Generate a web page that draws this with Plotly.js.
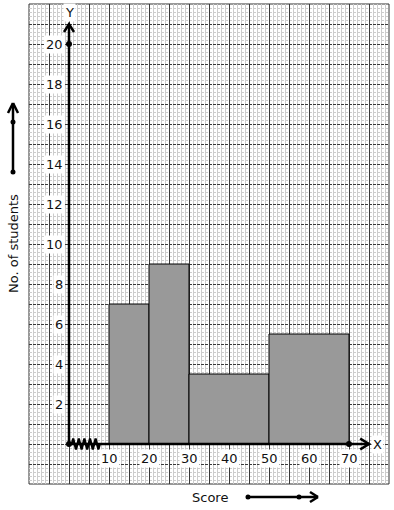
<!DOCTYPE html>
<html>
<head>
<meta charset="utf-8">
<script src="https://cdn.plot.ly/plotly-3.0.1.min.js"></script>
<style>
html,body{margin:0;padding:0;background:#fff;}
#chart{width:394px;height:510px;}
</style>
</head>
<body>
<div id="chart"></div>
<script>
// ---- data ----
const binStart = [10, 20, 30, 50];
const binEnd   = [20, 30, 50, 70];
const counts   = [7, 9, 3.5, 5.5];
const xTickVals = [10, 20, 30, 40, 50, 60, 70];
const yTickVals = [2, 4, 6, 8, 10, 12, 14, 16, 18, 20];
const xTitle = "Score";
const yTitle = "No. of students";

// ---- layout helpers ----
const W = 394, H = 510;
const M = {l: 29, r: 5, t: 4, b: 26};
const PW = W - M.l - M.r, PH = H - M.t - M.b;
const PX = px => (px - M.l) / PW;
const PY = py => (H - M.b - py) / PH;
const FONT = "DejaVu Sans, Liberation Sans, sans-serif";
const TXT = '#111';

const shapes = [];
const annotations = [];

// bars (histogram, unequal widths)
const bars = {
  type: 'bar',
  x: binStart.map((s, i) => (s + binEnd[i]) / 2),
  width: binStart.map((s, i) => binEnd[i] - s),
  y: counts,
  marker: {color: '#999999', line: {color: '#000', width: 1}},
  hoverinfo: 'skip'
};

// axis lines with open arrowheads (data coords)
const AX = {color: '#000', width: 2.5};
shapes.push({type: 'line', xref: 'x', yref: 'y', x0: 0, y0: 0, x1: 0, y1: 21, line: AX});
shapes.push({type: 'path', xref: 'x', yref: 'y', path: 'M -1.25,20.6 L 0,21 L 1.25,20.6', line: AX});
shapes.push({type: 'line', xref: 'x', yref: 'y', x0: 0, y0: 0, x1: 75, y1: 0, line: AX});
shapes.push({type: 'path', xref: 'x', yref: 'y', path: 'M 72.8,0.27 L 75,0 L 72.8,-0.27', line: AX});

// axis break zigzag on x axis
let zz = 'M 0.7,0';
const amp = [0, 0.28, 0, -0.28];
for (let k = 1; k <= 20; k++) zz += ' L ' + (0.7 + 0.35 * k).toFixed(2) + ',' + amp[k % 4];
shapes.push({type: 'path', xref: 'x', yref: 'y', path: zz, line: {color: '#000', width: 2.2}});

// outer border of graph paper
shapes.push({type: 'rect', xref: 'paper', yref: 'paper', x0: 0, y0: 0, x1: 1, y1: 1,
  line: {color: '#333', width: 1}, layer: 'below'});

// decorative arrows beside titles
function pxLine(x0, y0, x1, y1) {
  shapes.push({type: 'line', xref: 'paper', yref: 'paper',
    x0: PX(x0), y0: PY(y0), x1: PX(x1), y1: PY(y1), line: AX});
}
function pxDot(x, y, r) {
  shapes.push({type: 'circle', xref: 'paper', yref: 'paper',
    x0: PX(x - r), x1: PX(x + r), y0: PY(y + r), y1: PY(y - r),
    fillcolor: '#000', line: {color: '#000', width: 0}});
}
// left vertical arrow
pxLine(13, 172, 13, 103);
pxLine(8, 113, 13, 103);
pxLine(18, 113, 13, 103);
pxDot(13, 122, 2.5);
pxDot(13, 172, 2.5);
// bottom horizontal arrow
pxLine(248, 497, 318, 497);
pxLine(310, 492, 318, 497);
pxLine(310, 502, 318, 497);
pxDot(248, 497, 2.5);
pxDot(299, 497, 2.5);

// tick labels with white background
xTickVals.forEach(v => annotations.push({
  x: v, y: 0, xref: 'x', yref: 'y', text: String(v), showarrow: false,
  xanchor: 'center', yanchor: 'top', yshift: -5, bgcolor: '#fff', borderpad: 1,
  font: {family: FONT, size: 13, color: TXT}
}));
yTickVals.forEach(v => annotations.push({
  x: 0, y: v, xref: 'x', yref: 'y', text: String(v), showarrow: false,
  xanchor: 'right', yanchor: 'middle', xshift: -4, bgcolor: '#fff', borderpad: 1,
  font: {family: FONT, size: 13, color: TXT}
}));
// axis letters
annotations.push({x: 0, y: 21.6, xref: 'x', yref: 'y', text: 'Y', showarrow: false,
  xanchor: 'center', yanchor: 'middle', bgcolor: '#fff', borderpad: 1,
  font: {family: FONT, size: 13, color: TXT}});
annotations.push({x: 77.2, y: 0, xref: 'x', yref: 'y', text: 'X', showarrow: false,
  xanchor: 'center', yanchor: 'middle', bgcolor: '#fff', borderpad: 1,
  font: {family: FONT, size: 13, color: TXT}});
// titles
annotations.push({x: PX(13), y: PY(244), xref: 'paper', yref: 'paper', text: yTitle,
  textangle: -90, showarrow: false, xanchor: 'center', yanchor: 'middle',
  font: {family: FONT, size: 13, color: TXT}});
annotations.push({x: PX(210), y: PY(497), xref: 'paper', yref: 'paper', text: xTitle,
  showarrow: false, xanchor: 'center', yanchor: 'middle',
  font: {family: FONT, size: 13, color: TXT}});

// key points on axes
const dots = {
  type: 'scatter', mode: 'markers', x: [0, 0, 70], y: [0, 20, 0],
  marker: {color: '#000', size: 6}, cliponaxis: false, hoverinfo: 'skip'
};

const layout = {
  width: W, height: H,
  margin: M,
  paper_bgcolor: '#fff', plot_bgcolor: '#fff',
  showlegend: false,
  font: {family: FONT, size: 13, color: TXT},
  bargap: 0,
  xaxis: {
    range: [-10, 80], tick0: 0, dtick: 5, showgrid: true,
    gridcolor: '#3a3a3a', gridwidth: 1, zeroline: false, showline: false,
    showticklabels: false, ticks: '', fixedrange: true,
    minor: {tick0: 0, dtick: 1, showgrid: true, gridcolor: '#cccccc', gridwidth: 1}
  },
  yaxis: {
    range: [-2, 22], tick0: 0, dtick: 1, showgrid: true,
    gridcolor: '#3a3a3a', gridwidth: 1, griddash: '3px,1px', zeroline: false, showline: false,
    showticklabels: false, ticks: '', fixedrange: true,
    minor: {tick0: 0, dtick: 0.2, showgrid: true, gridcolor: '#cccccc', gridwidth: 1}
  },
  shapes: shapes,
  annotations: annotations
};

Plotly.newPlot('chart', [bars, dots], layout, {staticPlot: true, displayModeBar: false});
</script>
</body>
</html>
